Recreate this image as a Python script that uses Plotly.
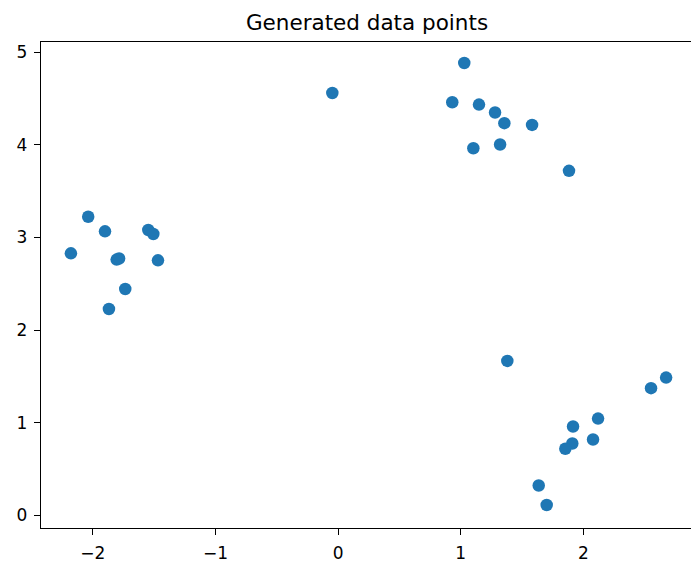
import plotly.graph_objects as go

# Sample coordinates of the generated points (three clusters plus a stray one)
x_vals = [
    -2.038, -1.901, -1.548, -1.507, -2.179, -1.806, -1.786, -1.469, -1.736, -1.869,
    1.029, -0.047, 0.931, 1.149, 1.280, 1.356, 1.582, 1.103, 1.321, 1.883,
    1.380, 2.552, 2.675, 2.120, 1.916, 1.910, 1.853, 2.079, 1.636, 1.701,
]
y_vals = [
    3.222, 3.065, 3.079, 3.036, 2.828, 2.760, 2.772, 2.752, 2.443, 2.227,
    4.881, 4.558, 4.458, 4.433, 4.347, 4.232, 4.213, 3.962, 4.002, 3.718,
    1.667, 1.373, 1.487, 1.045, 0.959, 0.776, 0.719, 0.819, 0.323, 0.112,
]
x_ticks = [-2, -1, 0, 1, 2]
y_ticks = [0, 1, 2, 3, 4, 5]
title_text = "Generated data points"

fig = go.Figure(
    go.Scatter(
        x=x_vals,
        y=y_vals,
        mode="markers",
        marker=dict(color="#1f77b4", size=12.5, line=dict(width=0)),
        showlegend=False,
    )
)

axis_font = dict(family="DejaVu Sans", size=17, color="#000000")

fig.update_layout(
    width=691,
    height=565,
    margin=dict(l=41, r=0, t=42, b=37),
    paper_bgcolor="white",
    plot_bgcolor="white",
    title=dict(
        text=title_text,
        x=367 / 691,
        xref="container",
        xanchor="center",
        y=1 - 22 / 565,
        yanchor="middle",
        font=dict(family="DejaVu Sans", size=21.5, color="#000000"),
    ),
    xaxis=dict(
        range=[-2.423, 2.878],
        tickvals=x_ticks,
        ticktext=["\u2212" + str(-t) if t < 0 else str(t) for t in x_ticks],
        showgrid=False,
        zeroline=False,
        showline=True,
        mirror=True,
        linecolor="#000000",
        linewidth=1.3,
        ticks="outside",
        ticklen=6,
        tickwidth=1.3,
        tickcolor="#000000",
        tickfont=axis_font,
        ticklabelstandoff=3,
    ),
    yaxis=dict(
        range=[-0.136, 5.108],
        tickvals=y_ticks,
        showgrid=False,
        zeroline=False,
        showline=True,
        mirror=False,
        linecolor="#000000",
        linewidth=1.3,
        ticks="outside",
        ticklen=6,
        tickwidth=1.3,
        tickcolor="#000000",
        tickfont=axis_font,
        ticklabelstandoff=3,
    ),
)

fig.write_html("out.html")
